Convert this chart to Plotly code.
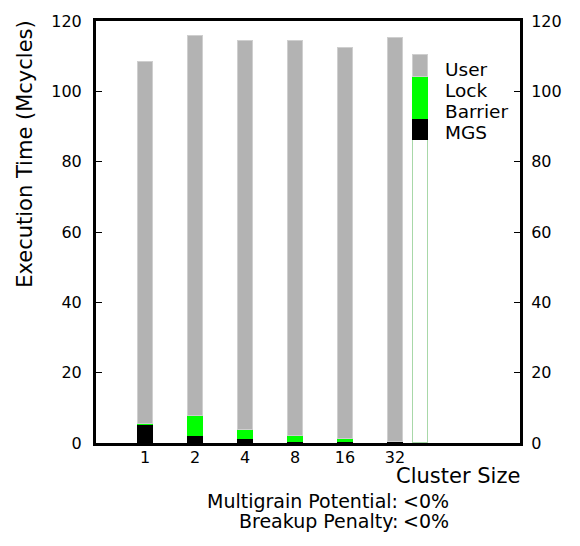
import plotly.graph_objects as go

# ---- data ----
cluster_labels = ["1", "2", "4", "8", "16", "32"]
series_names = ["MGS", "Barrier", "Lock", "User"]
mgs     = [0.0, 0.0, 0.0, 0.0, 0.0, 0.0]
barrier = [5.0, 2.0, 1.1, 0.2, 0.2, 0.2]
lock    = [0.4, 5.6, 2.6, 1.8, 0.9, 0.2]
user    = [102.9, 108.0, 110.7, 112.3, 111.1, 114.9]
# legend key bar (drawn as stacked bar next to the labels)
key_values = [86.2, 6.0, 11.9, 6.1]  # MGS, Barrier, Lock, User
y_ticks = [0, 20, 40, 60, 80, 100, 120]
notes = [("Multigrain Potential:", "<0%"), ("Breakup Penalty:", "<0%")]

W, H = 580, 546
L, R, T, B = 96, 60, 14, 103
FONT = "DejaVu Sans, Liberation Sans, Arial, sans-serif"
FS_TICK = 16

colors = {"MGS": "#ffffff", "Barrier": "#000000", "Lock": "#00ff00", "User": "#b3b3b3"}
lines = {"MGS": "#a8d8a8", "Barrier": "#000000", "Lock": "#00ff00", "User": "#cfcfcf"}

xpos = list(range(1, len(cluster_labels) + 1))
key_x = len(cluster_labels) + 0.5

fig = go.Figure()
data = {"MGS": mgs, "Barrier": barrier, "Lock": lock, "User": user}
for i, name in enumerate(series_names):
    fig.add_trace(go.Bar(
        x=xpos + [key_x], y=data[name] + [key_values[i]], name=name, width=0.3,
        marker=dict(color=colors[name], line=dict(color=lines[name], width=1)),
        showlegend=False, hoverinfo="skip"))

fig.add_trace(go.Scatter(x=[1], y=[0], yaxis="y2", mode="markers",
                         marker=dict(opacity=0), showlegend=False, hoverinfo="skip"))

fig.update_layout(
    width=W, height=H, margin=dict(l=L, r=R, t=T, b=B),
    plot_bgcolor="white", paper_bgcolor="white", barmode="stack", bargap=0,
    font=dict(family=FONT, size=FS_TICK, color="black"),
    xaxis=dict(range=[0.02, 8.5], tickvals=xpos, ticktext=cluster_labels,
               showline=True, linewidth=3, linecolor="black", mirror=True,
               ticks="", showgrid=False, zeroline=False, ticklabelstandoff=-2,
               tickfont=dict(size=FS_TICK)),
    yaxis=dict(range=[0, 120], tickvals=y_ticks, showline=True, linewidth=3,
               linecolor="black", ticks="inside", ticklen=6, tickwidth=1,
               tickcolor="black", showgrid=False, zeroline=False,
               ticklabelstandoff=8, tickfont=dict(size=FS_TICK)),
    yaxis2=dict(range=[0, 120], tickvals=y_ticks, overlaying="y", side="right",
                showline=True, linewidth=3, linecolor="black", ticks="inside",
                ticklen=6, tickwidth=1, tickcolor="black", showgrid=False,
                zeroline=False, ticklabelstandoff=5, tickfont=dict(size=FS_TICK)),
)

pw = W - L - R
ph = H - T - B
def px(x):
    return (x - L) / pw
def py(y):
    return (H - B - y) / ph

anns = []
anns.append(dict(text="Execution Time (Mcycles)", textangle=-90, x=px(25), y=py(149),
                 xref="paper", yref="paper", showarrow=False, xanchor="center",
                 yanchor="middle", font=dict(size=21)))
anns.append(dict(text="Cluster Size", x=px(458), y=py(477), xref="paper", yref="paper",
                 showarrow=False, xanchor="center", yanchor="middle", font=dict(size=21)))
for j, (lab, val) in enumerate(notes):
    yy = 502 + 20 * j
    anns.append(dict(text=lab, x=px(400), y=py(yy), xref="paper", yref="paper",
                     showarrow=False, xanchor="right", yanchor="middle",
                     font=dict(size=19)))
    anns.append(dict(text=val, x=px(401), y=py(yy), xref="paper", yref="paper",
                     showarrow=False, xanchor="left", yanchor="middle",
                     font=dict(size=19)))
for j, name in enumerate(reversed(series_names)):
    anns.append(dict(text=name, x=px(443), y=py(63 + 21.3 * j), xref="paper",
                     yref="paper", showarrow=False, xanchor="left", yanchor="middle",
                     font=dict(size=18.5)))
fig.update_layout(annotations=anns)

fig.write_html("out.html")
